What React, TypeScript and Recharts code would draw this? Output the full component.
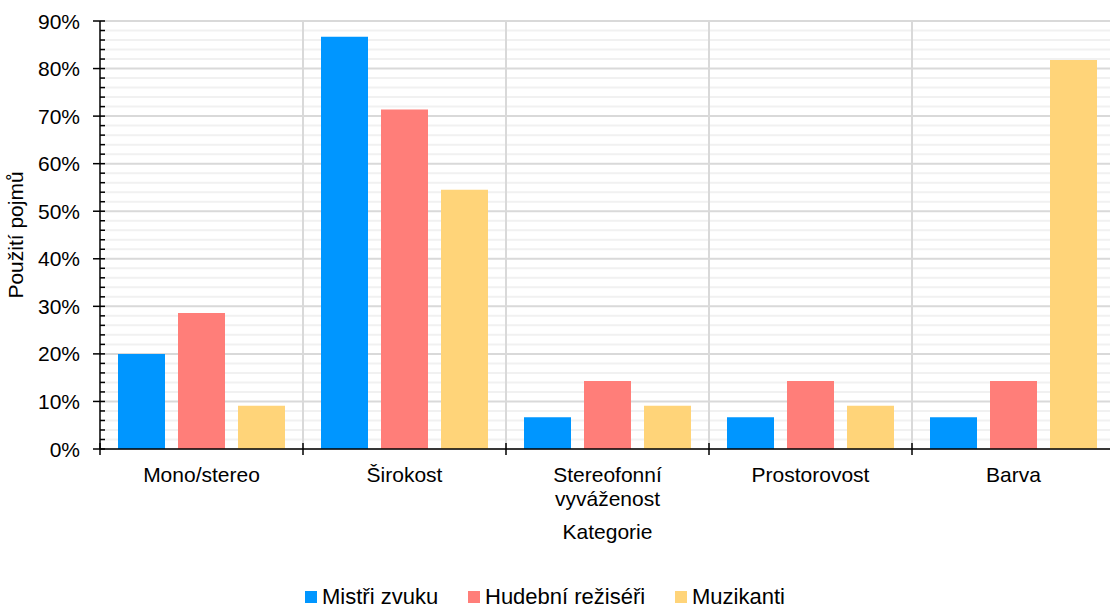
import { Bar, BarChart, CartesianGrid, Label, Legend, Text, XAxis, YAxis } from 'recharts'

const categories = ['Mono/stereo', 'Širokost', 'Stereofonní vyváženost', 'Prostorovost', 'Barva']
const mistriZvuku = [20.0, 86.7, 6.7, 6.7, 6.7]
const hudebniReziseri = [28.6, 71.4, 14.3, 14.3, 14.3]
const muzikanti = [9.1, 54.5, 9.1, 9.1, 81.8]

// every 2 % gets a minor tick + grid line, every 10 % a labelled major one
const yTicks = Array.from({ length: 46 }, (_, i) => i * 2)

const series = [
  { key: 'mistri', name: 'Mistři zvuku', color: '#0096FF', values: mistriZvuku },
  { key: 'reziseri', name: 'Hudební režiséři', color: '#FF7E79', values: hudebniReziseri },
  { key: 'muzikanti', name: 'Muzikanti', color: '#FFD479', values: muzikanti },
]

const data = categories.map((kategorie, i) => {
  const row: Record<string, string | number> = { kategorie }
  series.forEach((s) => {
    row[s.key] = s.values[i]
  })
  return row
})

const FONT = '"Liberation Sans", Arial, sans-serif'
const FS = 21
const legendWidths = [163, 207, 200]

function YTick({ x, y, payload }: any) {
  const v = payload.value as number
  const major = v % 10 === 0
  return (
    <g>
      <line x1={major ? x - 7 : x} x2={x + 5} y1={y} y2={y} stroke="#000" strokeWidth={1.5} />
      {major && (
        <text x={x - 20} y={y} dy={7.5} textAnchor="end" fontSize={FS} fill="#000" fontFamily={FONT}>
          {v}%
        </text>
      )}
    </g>
  )
}

function XTick({ x, y, payload }: any) {
  const left = x - (payload.offset ?? 0)
  return (
    <g>
      <line x1={left} x2={left} y1={y - 6} y2={y + 6} stroke="#000" strokeWidth={1.5} />
      <Text
        x={x}
        y={y + 18}
        width={150}
        textAnchor="middle"
        verticalAnchor="start"
        lineHeight={24}
        fontSize={FS}
        style={{ fontSize: FS, fontFamily: FONT }}
        fill="#000"
        fontFamily={FONT}
      >
        {payload.value}
      </Text>
    </g>
  )
}

function HorizontalLine(props: any) {
  const { x1, x2, y1, y2, index } = props
  const major = index % 5 === 0
  return (
    <line
      key={`h-${index}`}
      x1={x1}
      x2={x2}
      y1={y1}
      y2={y2}
      stroke={major ? '#d9d9d9' : '#f1f1f1'}
      strokeWidth={2}
    />
  )
}

function LegendContent() {
  return (
    <div
      style={{
        display: 'flex',
        paddingLeft: 305,
        paddingTop: 9,
        height: 30,
        boxSizing: 'border-box',
        fontSize: 22,
        lineHeight: '22px',
        fontFamily: FONT,
        color: '#000',
      }}
    >
      {series.map((s, i) => (
        <div key={s.key} style={{ display: 'flex', alignItems: 'center', width: legendWidths[i], whiteSpace: 'nowrap' }}>
          <span style={{ display: 'inline-block', width: 12, height: 12, background: s.color, marginRight: 5 }} />
          <span>{s.name}</span>
        </div>
      ))}
    </div>
  )
}

export default function App() {
  return (
    <div
      style={{
        position: 'absolute',
        left: 0,
        top: 0,
        width: 1110,
        height: 607,
        overflow: 'hidden',
        background: '#fff',
        fontFamily: FONT,
      }}
    >
      <BarChart
        width={1130}
        height={607}
        data={data}
        margin={{ top: 21, right: 15, bottom: 0, left: 0 }}
        barCategoryGap={18}
        barGap={13}
      >
        <CartesianGrid
          horizontal={HorizontalLine}
          stroke="#d9d9d9"
          strokeWidth={2}
          verticalCoordinatesGenerator={({ offset }: any) =>
            categories.slice(1).map((_, i) => offset.left + ((i + 1) * offset.width) / categories.length)
          }
        />
        <XAxis
          dataKey="kategorie"
          height={128}
          interval={0}
          tickSize={0}
          tickMargin={0}
          tickLine={false}
          tick={<XTick />}
          axisLine={{ stroke: '#000', strokeWidth: 1.5 }}
        >
          <Label
            content={({ viewBox }: any) => (
              <text
                x={viewBox.x + viewBox.width / 2}
                y={viewBox.y + 90}
                textAnchor="middle"
                fontSize={FS}
                fill="#000"
                fontFamily={FONT}
              >
                Kategorie
              </text>
            )}
          />
        </XAxis>
        <YAxis
          domain={[0, 90]}
          ticks={yTicks}
          interval={0}
          width={100}
          tickSize={0}
          tickMargin={0}
          tickLine={false}
          tick={<YTick />}
          axisLine={{ stroke: '#000', strokeWidth: 1.5 }}
        >
          <Label
            content={({ viewBox }: any) => {
              const cy = viewBox.y + viewBox.height / 2
              return (
                <text
                  x={23}
                  y={cy}
                  transform={`rotate(-90, 23, ${cy})`}
                  textAnchor="middle"
                  fontSize={FS}
                  fill="#000"
                  fontFamily={FONT}
                >
                  Použití pojmů
                </text>
              )
            }}
          />
        </YAxis>
        <Legend
          verticalAlign="bottom"
          content={<LegendContent />}
          wrapperStyle={{ left: 0, bottom: 0, width: 1110, height: 30 }}
        />
        {series.map((s) => (
          <Bar key={s.key} dataKey={s.key} name={s.name} fill={s.color} isAnimationActive={false} />
        ))}
      </BarChart>
    </div>
  )
}
